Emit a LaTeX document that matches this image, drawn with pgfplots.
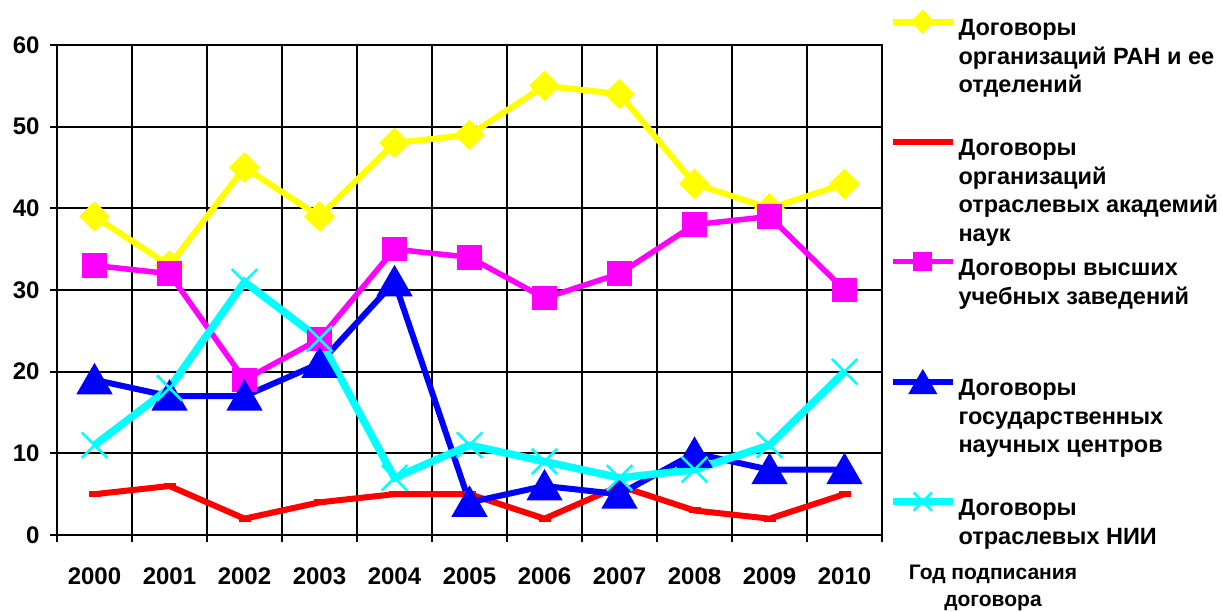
\documentclass[border=0pt]{standalone}
\usepackage{fontspec}
\setmainfont{Liberation Sans}
\usepackage{pgfplots}
\pgfplotsset{compat=1.18}
\definecolor{cYel}{RGB}{255,255,0}
\definecolor{cRed}{RGB}{255,0,0}
\definecolor{cMag}{RGB}{255,0,255}
\definecolor{cBlu}{RGB}{0,0,255}
\definecolor{cCya}{RGB}{0,255,255}
\newcommand{\lentry}[2]{\vtop to 120pt{\hbox{\rule{0pt}{32pt}#1}#2\vss}}
\begin{document}
\begin{tikzpicture}
\useasboundingbox (-57pt,-77pt) rectangle (1166pt,535pt);
\begin{axis}[
  at={(0pt,0pt)}, anchor=south west,
  scale only axis, width=825pt, height=490pt,
  xmin=-0.5, xmax=10.5, ymin=0, ymax=60,
  xtick={0,...,10},
  xticklabels={2000,2001,2002,2003,2004,2005,2006,2007,2008,2009,2010},
  minor xtick={-0.5,0.5,...,10.5},
  ytick={0,10,...,60},
  xminorgrids=true, ymajorgrids=true, xmajorgrids=false,
  grid style={black, line width=2pt},
  minor grid style={black, line width=2pt},
  axis line style={black, line width=2pt},
  tick align=outside, xtick pos=bottom, ytick pos=left,
  major x tick style={draw=none},
  minor x tick style={black, line width=2pt},
  y tick style={black, line width=2pt},
  major tick length=7pt, minor tick length=7pt,
  tick label style={font=\fontsize{24}{28}\selectfont\bfseries},
  xticklabel style={yshift=-22pt},
  yticklabel style={xshift=-7pt},
  /pgf/number format/assume math mode=true,
  clip=false,
  xlabel={Год подписания\\договора},
  xlabel style={at={(axis description cs:1.1345,-0.109)}, anchor=center, align=center,
    font=\fontsize{21}{27}\selectfont\bfseries},
  legend style={at={(axis description cs:1.0085,1.0843)}, anchor=north west, draw=none, fill=none,
    inner sep=0pt, outer sep=0pt, row sep=0pt, column sep=2pt,
    font=\fontsize{23.5}{28.5}\selectfont\bfseries, nodes={inner sep=0pt, text depth=},
    cells={anchor=base west}},
  legend image code/.code={\draw[mark repeat=2,mark phase=2,every mark/.append style={scale=0.72}] plot coordinates {(0pt,14pt) (30pt,14pt) (60pt,14pt)};},
]
\addplot[cYel, line width=6pt, mark=diamond*, mark size=11pt, mark options={xscale=1.35, solid}]
  coordinates {(0,39) (1,33) (2,45) (3,39) (4,48) (5,49) (6,55) (7,54) (8,43) (9,40) (10,43)};
\addlegendentry{\lentry{Договоры}{\hbox{организаций РАН и ее}\hbox{отделений}}}
\addplot[cRed, line width=6pt, mark=-, mark size=6pt]
  coordinates {(0,5) (1,6) (2,2) (3,4) (4,5) (5,5) (6,2) (7,6) (8,3) (9,2) (10,5)};
\addlegendentry{\lentry{Договоры}{\hbox{организаций}\hbox{отраслевых академий}\hbox{наук}}}
\addplot[cMag, line width=5.5pt, mark=square*, mark size=9.5pt]
  coordinates {(0,33) (1,32) (2,19) (3,24) (4,35) (5,34) (6,29) (7,32) (8,38) (9,39) (10,30)};
\addlegendentry{\lentry{Договоры высших}{\hbox{учебных заведений}}}
\addplot[cBlu, line width=6pt, mark=triangle*, mark size=15pt, mark options={yshift=-4pt}]
  coordinates {(0,19) (1,17) (2,17) (3,21) (4,31) (5,4) (6,6) (7,5) (8,10) (9,8) (10,8)};
\addlegendentry{\lentry{Договоры}{\hbox{государственных}\hbox{научных центров}}}
\addplot[cCya, line width=7.5pt, mark=x, mark size=18pt, mark options={line width=2.5pt}]
  coordinates {(0,11) (1,18) (2,31) (3,24) (4,7) (5,11) (6,9) (7,7) (8,8) (9,11) (10,20)};
\addlegendentry{\lentry{Договоры}{\hbox{отраслевых НИИ}}}
\end{axis}
\end{tikzpicture}
\end{document}
